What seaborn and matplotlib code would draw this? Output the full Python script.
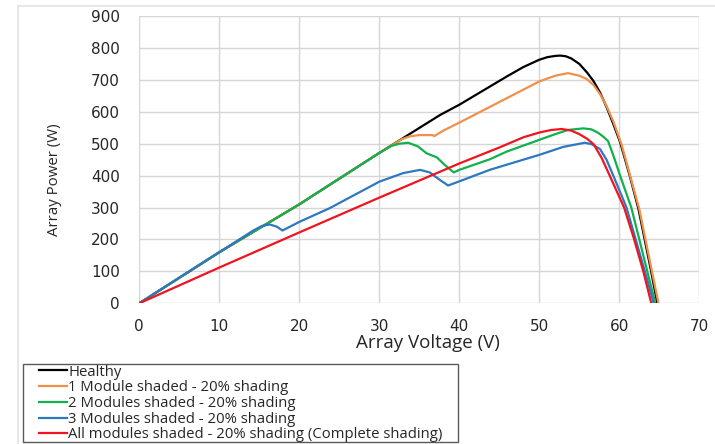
import matplotlib
matplotlib.use("Agg")
import matplotlib.pyplot as plt
import seaborn as sns
import pandas as pd
from matplotlib.patches import Rectangle
from matplotlib.lines import Line2D

# ---------------- data ----------------
series_names = [
    "Healthy",
    "1 Module shaded - 20% shading",
    "2 Modules shaded - 20% shading",
    "3 Modules shaded - 20% shading",
    "All modules shaded - 20% shading (Complete shading)",
]

healthy_v = [0, 10, 20, 30, 37.6, 40, 45.9, 48, 50, 51, 52, 52.6, 53.3, 54, 55, 56, 56.75, 57.6, 58.4, 59.2, 60.1, 61.3, 62.4, 63.9, 64.75]
healthy_p = [0, 160, 310, 471, 590, 622, 710, 740, 763, 771, 775, 776, 774, 767, 750, 722, 697, 660, 615, 565, 505, 400, 295, 110, 0]

mod1_v = [0, 10, 20, 30, 31.75, 32.8, 33.8, 35, 36.6, 36.9, 38, 40, 45.9, 50, 52, 53.6, 55, 55.9, 56.8, 57.6, 58.4, 59.25, 60.3, 61.4, 62.5, 64, 64.9]
mod1_p = [0, 160, 310, 471, 498, 514, 523, 527, 527, 524, 541, 566, 642, 695, 713, 721, 713, 703, 683, 655, 618, 570, 496, 395, 295, 110, 0]

mod2_v = [0, 10, 20, 30, 31.5, 32.5, 33.6, 34.8, 35.4, 35.9, 37.2, 38.2, 39.3, 40, 43.8, 45.9, 50, 52, 53.6, 55.5, 56.5, 57.3, 58, 58.6, 59.3, 60.1, 61.5, 62.5, 63.5, 64.5]
mod2_p = [0, 160, 310, 471, 493, 500, 503, 492, 480, 470, 457, 433, 410, 418, 451, 475, 512, 530, 543, 548, 545, 535, 522, 508, 460, 400, 300, 200, 100, 0]

mod3_v = [0, 10, 14.25, 15.3, 16.3, 17.2, 17.9, 20, 23.8, 30, 33, 35.1, 36.3, 37.6, 38.6, 40, 43.8, 45.9, 50, 53, 55.7, 56.6, 57.6, 58.4, 59.25, 60.9, 63.2, 64.3]
mod3_p = [0, 160, 228, 242, 247, 240, 228, 255, 298, 381, 408, 418, 410, 386, 369, 382, 418, 434, 465, 490, 503, 498, 483, 450, 400, 300, 100, 0]

all_v = [0, 10, 20, 30, 40, 45, 48, 50, 51.5, 52.8, 54, 55, 56, 56.8, 57.8, 58.8, 60.6, 61.8, 63, 64]
all_p = [0, 112, 222, 331, 438, 488, 520, 535, 543, 546, 541, 530, 515, 498, 455, 400, 300, 205, 100, 0]

colors = ["#000000", "#F0904A", "#13B04E", "#2E78C0", "#F0141E"]

x_ticks = [0, 10, 20, 30, 40, 50, 60, 70]
y_ticks = [0, 100, 200, 300, 400, 500, 600, 700, 800, 900]

# ---------------- build long table ----------------
frames = []
for name, v, p in zip(series_names,
                      [healthy_v, mod1_v, mod2_v, mod3_v, all_v],
                      [healthy_p, mod1_p, mod2_p, mod3_p, all_p]):
    frames.append(pd.DataFrame({"V": v, "P": p, "Series": name}))
df = pd.concat(frames, ignore_index=True)

# ---------------- figure ----------------
W, H = 715, 444
fig = plt.figure(figsize=(W / 100, H / 100), dpi=100)
fig.patch.set_facecolor("white")

x0, x1 = 139.3, 699.3
y_top, y_bot = 16.0, 303.3
ax = fig.add_axes([x0 / W, 1 - y_bot / H, (x1 - x0) / W, (y_bot - y_top) / H])

sns.lineplot(data=df, x="V", y="P", hue="Series", hue_order=series_names,
             palette=colors, sort=False, estimator=None, linewidth=1.6,
             legend=False, ax=ax, zorder=3)

ax.set_xlim(0, 70)
ax.set_ylim(0, 900)
ax.set_xticks(x_ticks)
ax.set_yticks(y_ticks)
ax.set_xticklabels([str(t) for t in x_ticks])
ax.set_yticklabels([str(t) for t in y_ticks])
ax.grid(True, color="#d6d6d6", linewidth=1.0, zorder=0)
ax.set_axisbelow(True)
for s in ax.spines.values():
    s.set_visible(False)
ax.tick_params(axis="both", length=0, labelsize=11, labelcolor="#262626")
ax.tick_params(axis="x", pad=11)
ax.tick_params(axis="y", pad=14)
for lab in ax.get_xticklabels() + ax.get_yticklabels():
    lab.set_fontfamily("DejaVu Sans")

ax.set_xlabel("Array Voltage (V)", fontsize=13.5, family="Open Sans", color="#262626")
ax.set_ylabel("Array Power (W)", fontsize=10.8, family="Open Sans", color="#262626")
ax.xaxis.set_label_coords((428 - x0) / (x1 - x0), (y_bot - 348) / (y_bot - y_top))
ax.xaxis.label.set_verticalalignment("baseline")
ax.yaxis.set_label_coords((55 - x0) / (x1 - x0), (y_bot - 180) / (y_bot - y_top))
ax.yaxis.label.set_verticalalignment("center")

# outer light frame
fig.add_artist(Line2D([18 / W, 18 / W], [0, 1 - 6 / H], transform=fig.transFigure,
                      color="#e3e3e3", linewidth=1.2))
fig.add_artist(Line2D([18 / W, 1], [1 - 6 / H, 1 - 6 / H], transform=fig.transFigure,
                      color="#e3e3e3", linewidth=1.2))

# legend box
lx0, lx1, ly0, ly1 = 22.7, 458.3, 364.3, 442.3
fig.add_artist(Rectangle((lx0 / W, 1 - ly1 / H), (lx1 - lx0) / W, (ly1 - ly0) / H,
                         transform=fig.transFigure, fill=False,
                         edgecolor="#5a5a5a", linewidth=1.0))
handles = [Line2D([], [], color=c, linewidth=1.6) for c in colors]
leg = fig.legend(handles, series_names, loc="upper left",
                 bbox_to_anchor=(39 / W, 1 - 364.5 / H), frameon=False,
                 prop={"family": "Open Sans", "size": 10.7}, handlelength=1.88,
                 handletextpad=0.08, labelspacing=0.05, borderpad=0.0,
                 borderaxespad=0.0)
for t in leg.get_texts():
    t.set_color("#262626")

fig.savefig("out.png", dpi=100, facecolor="white")
